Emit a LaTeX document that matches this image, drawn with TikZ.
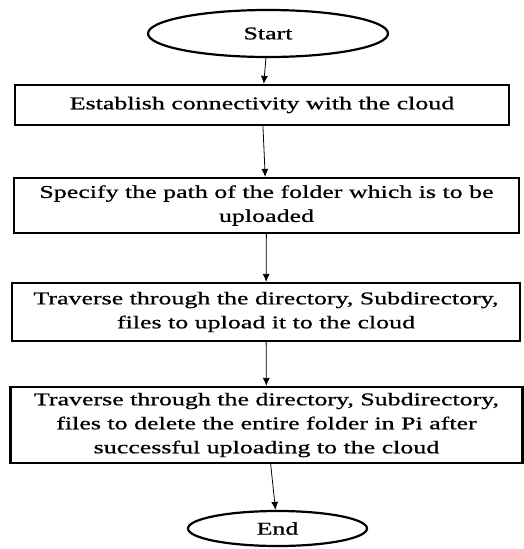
\documentclass[tikz,border=0pt]{standalone}
\usepackage{fontspec}
\setmainfont{Liberation Serif}[FakeStretch=1.44,FakeBold=0.8]
\usepackage{tikz}
\usetikzlibrary{shapes.geometric,arrows.meta}

\begin{document}
\begin{tikzpicture}[x=1pt,y=-1pt,
    every node/.style={font=\fontsize{18}{24}\selectfont},
    stepbox/.style={draw,line width=2.2pt,align=center,inner sep=0pt},
    term/.style={draw,ellipse,line width=2.2pt,inner sep=0pt},
    arr/.style={-{Latex[length=8pt,width=7pt]},line width=0.8pt}]
    \useasboundingbox (0,0) rectangle (524,549);
    \node[term,minimum width=240pt,minimum height=47pt] (start) at (268,33.5) {Start};
    \node[stepbox,minimum width=494pt,minimum height=40pt] (conn) at (262,105)
      {Establish connectivity with the cloud};
    \node[stepbox,minimum width=505pt,minimum height=55pt] (path) at (266.5,205.5)
      {Specify the path of the folder which is to be\\uploaded};
    \node[stepbox,minimum width=508pt,minimum height=58pt] (upload) at (266,312)
      {Traverse through the directory, Subdirectory,\\files to upload it to the cloud};
    \node[stepbox,minimum width=512pt,minimum height=76pt] (delete) at (266.5,425)
      {Traverse through the directory, Subdirectory,\\files to delete the entire folder in Pi after\\successful uploading to the cloud};
    \node[term,minimum width=179pt,minimum height=35pt] (end) at (277.5,528.5) {End};
    \draw[arr] (start) -- (conn);
    \draw[arr] (conn) -- (path);
    \draw[arr] (path) -- (upload);
    \draw[arr] (upload) -- (delete);
    \draw[arr] (delete) -- (end);
\end{tikzpicture}
\end{document}
